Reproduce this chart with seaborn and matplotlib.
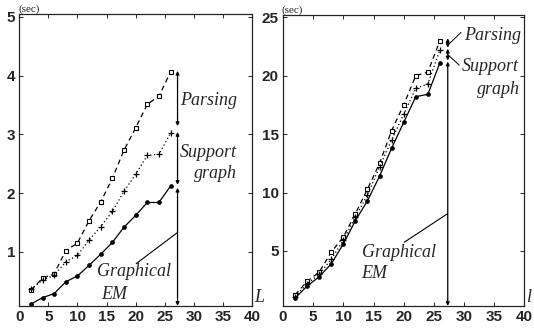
import matplotlib
matplotlib.use("Agg")
import matplotlib.pyplot as plt
import seaborn as sns
import pandas as pd

sns.set_style("ticks")
plt.rcParams['font.family'] = ['Liberation Sans', 'DejaVu Sans']
plt.rcParams['xtick.direction'] = 'in'
plt.rcParams['ytick.direction'] = 'in'

# --- data ---
L = [2, 4, 6, 8, 10, 12, 14, 16, 18, 20, 22, 24, 26]

left_parsing = [0.35, 0.55, 0.63, 1.02, 1.15, 1.53, 1.85, 2.25, 2.73, 3.11, 3.51, 3.65, 4.06]
left_support = [0.36, 0.52, 0.60, 0.83, 0.94, 1.20, 1.43, 1.69, 2.03, 2.32, 2.64, 2.66, 3.02]
left_gem = [0.11, 0.22, 0.29, 0.49, 0.59, 0.77, 0.96, 1.16, 1.42, 1.62, 1.84, 1.84, 2.12]

right_parsing = [1.25, 2.4, 3.2, 4.9, 6.2, 8.2, 10.3, 12.5, 15.3, 17.5, 20.0, 20.3, 23.0]
right_support = [1.1, 2.2, 3.0, 4.3, 5.9, 7.9, 9.8, 12.2, 14.5, 16.7, 18.9, 19.3, 22.2]
right_gem = [0.97, 2.0, 2.8, 3.9, 5.6, 7.6, 9.3, 11.4, 13.8, 16.0, 18.2, 18.4, 21.1]

x_ticks = [0, 5, 10, 15, 20, 25, 30, 35, 40]
left_yticks = [1, 2, 3, 4, 5]
right_yticks = [5, 10, 15, 20, 25]

serif_it = dict(family=['Liberation Serif', 'DejaVu Serif'], style='italic', fontsize=13)


def draw_series(ax, parsing, support, gem):
    df = pd.DataFrame({'L': L, 'parsing': parsing, 'support': support, 'gem': gem})
    # seaborn defaults marker edges to white, so force black everywhere
    sns.lineplot(data=df, x='L', y='parsing', ax=ax, color='black', lw=0.9,
                 linestyle=(0, (4, 3)), marker='s', markersize=3.5,
                 markerfacecolor='white', markeredgecolor='black', markeredgewidth=0.8)
    sns.lineplot(data=df, x='L', y='support', ax=ax, color='black', lw=0.9,
                 linestyle=(0, (1, 2)), marker='+', markersize=4,
                 markeredgecolor='black', markeredgewidth=0.9)
    sns.lineplot(data=df, x='L', y='gem', ax=ax, color='black', lw=0.9,
                 linestyle='-', marker='o', markersize=2.8,
                 markerfacecolor='black', markeredgecolor='black', markeredgewidth=0.5)


def arrow(ax, x, y0, y1):
    ax.annotate('', xy=(x, y1), xytext=(x, y0),
                arrowprops=dict(arrowstyle='<|-|>', color='black', lw=0.9,
                                mutation_scale=5, shrinkA=0, shrinkB=0))


def style_axes(ax, ylim, yticks, xlabel):
    ax.set_xlim(0, 40)
    ax.set_ylim(*ylim)
    ax.set_xticks(x_ticks)
    ax.set_yticks(yticks)
    ax.tick_params(axis='both', which='both', top=True, right=True,
                   length=3, width=0.7, labelsize=11, pad=3)
    for lab in ax.get_xticklabels() + ax.get_yticklabels():
        lab.set_fontweight('bold')
    ax.set_xlabel('')
    ax.set_ylabel('')
    for s in ax.spines.values():
        s.set_linewidth(0.9)
    ax.text(-0.005, 1.0, '(sec)', transform=ax.transAxes, ha='left', va='bottom',
            family=['Liberation Serif', 'DejaVu Serif'], fontsize=8)
    ax.text(1.008, 0.0, xlabel, transform=ax.transAxes, ha='left', va='bottom',
            **serif_it)


fig = plt.figure(figsize=(5.34, 3.30), dpi=100)
ax1 = fig.add_axes([0.036, 0.073, 0.436, 0.885])
ax2 = fig.add_axes([0.530, 0.073, 0.452, 0.882])

# ---- left panel ----
draw_series(ax1, left_parsing, left_support, left_gem)
xa = 27.2
arrow(ax1, xa, 3.14, 4.08)
arrow(ax1, xa, 2.14, 3.04)
arrow(ax1, xa, 0.08, 2.09)
ax1.plot([xa, 20.1], [1.33, 0.80], color='black', lw=0.8)
ax1.text(32.6, 3.58, 'Parsing', ha='center', va='center', **serif_it)
ax1.text(32.5, 2.69, 'Support', ha='center', va='center', **serif_it)
ax1.text(33.7, 2.33, 'graph', ha='center', va='center', **serif_it)
ax1.text(19.8, 0.66, 'Graphical', ha='center', va='center', **serif_it)
ax1.text(16.4, 0.28, 'EM', ha='center', va='center', **serif_it)
style_axes(ax1, (0.08, 5.05), left_yticks, 'L')

# ---- right panel ----
draw_series(ax2, right_parsing, right_support, right_gem)
xb = 27.3
arrow(ax2, xb, 22.4, 23.2)
arrow(ax2, xb, 21.3, 22.3)
arrow(ax2, xb, 0.3, 21.2)
ax2.plot([xb, 20.1], [8.2, 5.75], color='black', lw=0.8)
ax2.plot([xb, 29.5], [22.6, 23.7], color='black', lw=0.7)
ax2.plot([xb, 29.2], [21.8, 20.9], color='black', lw=0.7)
ax2.text(34.7, 23.4, 'Parsing', ha='center', va='center', **serif_it)
ax2.text(34.3, 20.8, 'Support', ha='center', va='center', **serif_it)
ax2.text(35.7, 18.8, 'graph', ha='center', va='center', **serif_it)
ax2.text(19.3, 4.85, 'Graphical', ha='center', va='center', **serif_it)
ax2.text(15.1, 3.05, 'EM', ha='center', va='center', **serif_it)
style_axes(ax2, (0.3, 25.2), right_yticks, 'l')

fig.savefig('out.png', dpi=100)
